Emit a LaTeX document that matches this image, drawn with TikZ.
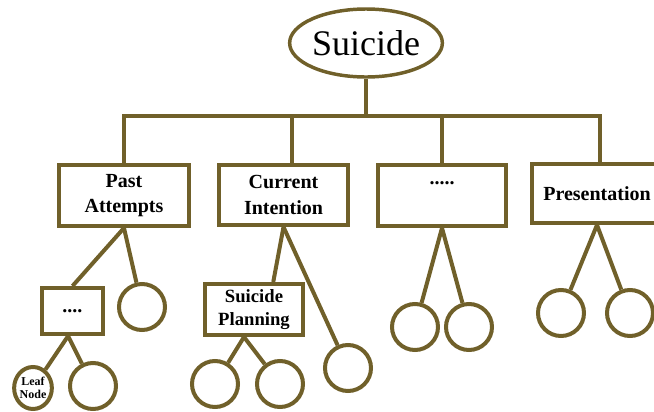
\documentclass[tikz,border=0pt]{standalone}
\usepackage{fontspec}
\setmainfont{Liberation Serif}
\usetikzlibrary{shapes.geometric}
\definecolor{treebrown}{RGB}{112,96,42}
\tikzset{every picture/.style={line width=0.75pt}}

\begin{document}
\begin{tikzpicture}[x=0.75pt,y=0.75pt,yscale=-1,xscale=1,
    link/.style={draw=treebrown,line width=3pt},
    catbox/.style={draw=treebrown,line width=3pt,rectangle,align=center,inner sep=0pt,font=\fontsize{15}{19}\selectfont\bfseries},
    leafnode/.style={draw=treebrown,line width=3pt,circle,minimum size=34.5pt,inner sep=0pt}]
    \useasboundingbox (0,0) rectangle (654,411);

    %Shape: Ellipse [root]
    \node[draw=treebrown,line width=2.6pt,ellipse,minimum width=107pt,minimum height=51pt,inner sep=0pt,font=\fontsize{27}{30}\selectfont] (root) at (366,43) {Suicide};

    %Shape: Rectangle [categories]
    \node[catbox,minimum width=97.5pt,minimum height=45.75pt] (pa) at (124,195.5) {Past\\Attempts};
    \node[catbox,minimum width=96.75pt,minimum height=45pt] (ci) at (283.5,195) {Current\\Intention};
    \node[catbox,minimum width=96pt,minimum height=45.75pt] (dd) at (442,195.5) {.....\\\mbox{}};
    \node[catbox,minimum width=97.5pt,minimum height=44.25pt] (pr) at (597,193.5) {Presentation};

    %Shape: Rectangle [second level]
    \node[catbox,minimum width=45.75pt,minimum height=34.5pt] (db) at (72.5,311) {....};
    \node[catbox,minimum width=73.5pt,minimum height=38.25pt,font=\fontsize{14}{17}\selectfont\bfseries] (sp) at (254,309.5) {Suicide\\Planning};

    %Shape: Circle [leaves]
    \node[leafnode] (pc) at (142,307) {};
    \node[leafnode,ellipse,minimum width=27pt,minimum height=31.5pt,font=\fontsize{9}{10}\selectfont\bfseries,align=center] (leaf) at (33,388) {Leaf\\Node};
    \node[leafnode] (dc) at (93,386) {};
    \node[leafnode] (sc1) at (215,384) {};
    \node[leafnode] (sc2) at (280,384) {};
    \node[leafnode] (cc) at (348,368) {};
    \node[leafnode] (dc1) at (415,327) {};
    \node[leafnode] (dc2) at (469,327) {};
    \node[leafnode] (rc1) at (561,313) {};
    \node[leafnode] (rc2) at (630,313) {};

    % Connectors
    \coordinate (bar) at (366,116);
    \draw[link] (root) -- (bar);
    \draw[link] (pa.north) |- (bar) -| (pr.85);
    \draw[link] (ci.75) |- (bar);
    \draw[link] (dd.north) |- (bar);

    \draw[link] (pa.south) -- (db.north);
    \draw[link] (pa.south) -- (pc);
    \draw[link] (db.-100) -- (leaf);
    \draw[link] (db.-100) -- (dc);

    \draw[link] (ci.south) -- (sp.55);
    \draw[link] (ci.south) -- (cc);
    \draw[link] (sp.-110) -- (sc1);
    \draw[link] (sp.-110) -- (sc2);

    \draw[link] (dd.south) -- (dc1);
    \draw[link] (dd.south) -- (dc2);
    \draw[link] (pr.south) -- (rc1);
    \draw[link] (pr.south) -- (rc2);
\end{tikzpicture}
\end{document}
